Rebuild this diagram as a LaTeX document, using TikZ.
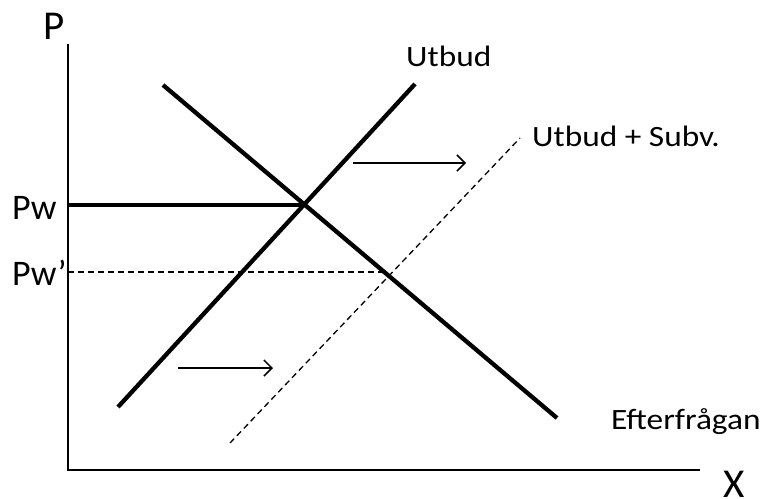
\documentclass[tikz,border=0pt]{standalone}
\usepackage{fontspec}
\setmainfont{Carlito}
\usetikzlibrary{arrows.meta}
\begin{document}
\begin{tikzpicture}[x=1pt,y=-1pt,
  axis/.style={line width=1.8pt},
  curve/.style={line width=4.3pt},
  shifted/.style={line width=1.3pt,dash pattern=on 6pt off 4pt},
  guide/.style={line width=1.3pt,dash pattern=on 6pt off 4pt},
  shiftarrow/.style={line width=1.5pt,-{Straight Barb[length=8pt,width=16pt,line width=1.5pt]}},
  lab/.style={inner sep=0pt,anchor=base west,xscale=1.13,transform shape,font=\fontsize{29.5}{34}\selectfont},
  axlab/.style={inner sep=0pt,anchor=base west,font=\fontsize{41}{46}\selectfont},
  plab/.style={inner sep=0pt,anchor=base west,font=\fontsize{36}{40}\selectfont}]
\useasboundingbox (0,0) rectangle (762,498);
% axes
\coordinate (O) at (68,470);
\coordinate (Ytop) at (68,44);
\coordinate (Xend) at (700,470);
\draw[axis] (Ytop) -- (O) -- (Xend);
% curves
\coordinate (S1) at (118,407);
\coordinate (S2) at (415,84);
\coordinate (D1) at (163,85);
\coordinate (D2) at (557,418);
\coordinate (E) at (303,205);
\coordinate (PwA) at (68,205);
\coordinate (SS1) at (230,443);
\coordinate (SS2) at (520,138);
\coordinate (E2) at (385,272);
\coordinate (PwB) at (68,272);
\draw[curve] (S1) -- (S2);
\draw[curve] (D1) -- (D2);
\draw[curve,line cap=butt] (PwA) -- (E);
\draw[shifted] (SS1) -- (SS2);
\draw[guide] (PwB) -- (E2);
% arrows
\coordinate (A1s) at (353,163);
\coordinate (A1e) at (466,163);
\coordinate (A2s) at (178,368);
\coordinate (A2e) at (273,368);
\draw[shiftarrow] (A1s) -- (A1e);
\draw[shiftarrow] (A2s) -- (A2e);
% labels
\node[axlab] (lP) at (43,39) {P};
\node[axlab] (lX) at (723,497) {X};
\node[plab] (lPw) at (12,219) {Pw};
\node[plab] (lPw2) at (12,285) {Pw’};
\node[lab] (lS) at (406,66) {Utbud};
\node[lab] (lSS) at (532,146) {Utbud + Subv.};
\node[lab] (lD) at (611,429) {Efterfrågan};
\end{tikzpicture}
\end{document}
